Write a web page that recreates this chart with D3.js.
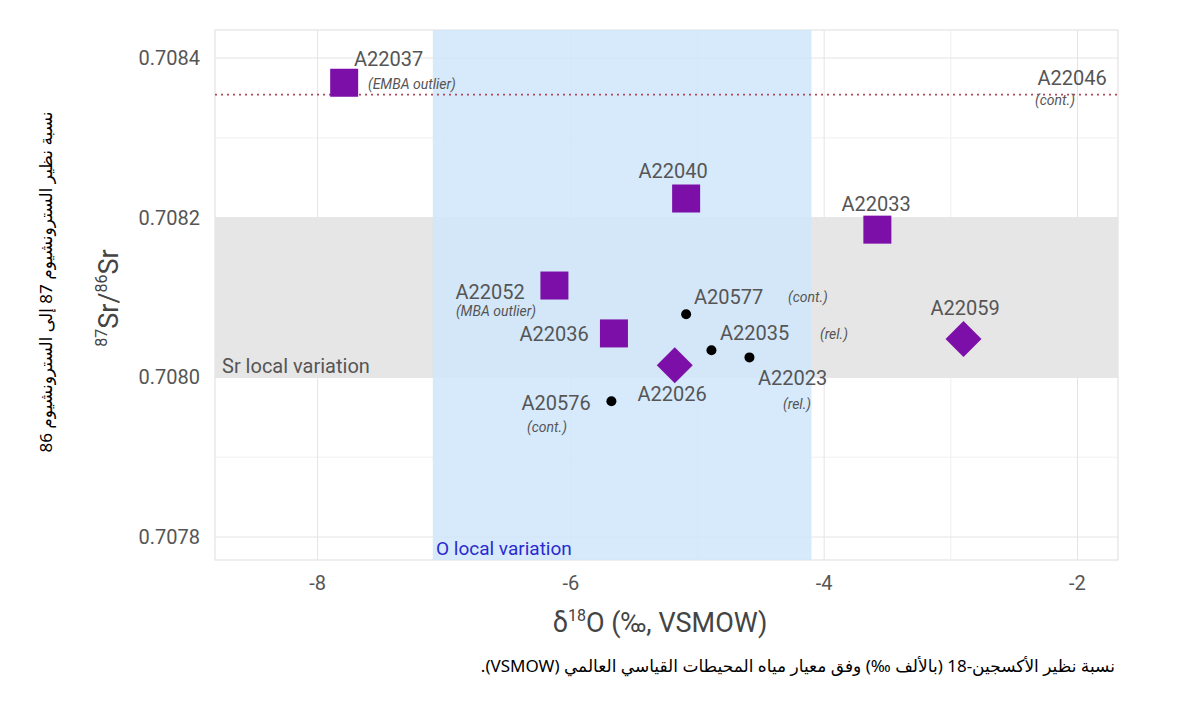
<!DOCTYPE html><html><head><meta charset="utf-8">
<script src="https://cdn.jsdelivr.net/npm/d3@7"></script>
<style>body{margin:0;background:#fff}</style></head><body>
<svg id="c" width="1200" height="723"></svg>
<script>
const squares=[{id:"A22037",x:-7.79,y:0.708369,sub:"(EMBA outlier)"},{id:"A22040",x:-5.09,y:0.708224},{id:"A22033",x:-3.58,y:0.708185},{id:"A22052",x:-6.13,y:0.708115,sub:"(MBA outlier)"},{id:"A22036",x:-5.66,y:0.708055}];
const diamonds=[{id:"A22026",x:-5.18,y:0.708015},{id:"A22059",x:-2.90,y:0.708048}];
const dots=[{id:"A20577",x:-5.09,y:0.708079,sub:"(cont.)"},{id:"A22035",x:-4.89,y:0.708034,sub:"(rel.)"},{id:"A22023",x:-4.59,y:0.708025,sub:"(rel.)"},{id:"A20576",x:-5.68,y:0.70797,sub:"(cont.)"}];
const xTicks=[-8,-6,-4,-2], yTicks=[0.7078,0.7080,0.7082,0.7084];
const oBand=[-7.09,-4.10], srBand=[0.7080,0.7082], refLine=0.708354;
const svg=d3.select("#c");
const x=d3.scaleLinear().domain([-8.81,-1.68]).range([215,1118]);
const y=d3.scaleLinear().domain([0.7084,0.7078]).range([58,537]);
const pTop=30,pBot=560;
const g=svg.append("g");
g.append("rect").attr("x",215).attr("y",pTop).attr("width",903).attr("height",pBot-pTop).attr("fill","#fff").attr("stroke","#ddd");
[-7,-5,-3].forEach(v=>g.append("line").attr("x1",x(v)).attr("x2",x(v)).attr("y1",pTop).attr("y2",pBot).attr("stroke","#f0f0f0"));
[0.7079,0.7081,0.7083].forEach(v=>g.append("line").attr("y1",y(v)).attr("y2",y(v)).attr("x1",215).attr("x2",1118).attr("stroke","#f0f0f0"));
xTicks.forEach(v=>g.append("line").attr("x1",x(v)).attr("x2",x(v)).attr("y1",pTop).attr("y2",pBot).attr("stroke","#e4e4e4"));
yTicks.forEach(v=>g.append("line").attr("y1",y(v)).attr("y2",y(v)).attr("x1",215).attr("x2",1118).attr("stroke","#e4e4e4"));
g.append("rect").attr("x",215).attr("width",903).attr("y",y(srBand[1])).attr("height",y(srBand[0])-y(srBand[1])).attr("fill","#e6e6e6");
g.append("rect").attr("x",x(oBand[0])).attr("width",x(oBand[1])-x(oBand[0])).attr("y",pTop).attr("height",pBot-pTop).attr("fill","#cfe6fb").attr("opacity",0.85);
g.append("line").attr("x1",215).attr("x2",1118).attr("y1",y(refLine)).attr("y2",y(refLine)).attr("stroke","#b04a5a").attr("stroke-width",1.8).attr("stroke-dasharray","2,4");
const F="Roboto, 'DejaVu Sans', sans-serif";
const txt=(t,px,py,o={})=>svg.append("text").attr("x",px).attr("y",py).attr("font-family",o.f||F).attr("font-size",o.s||20).attr("fill",o.c||"#555").attr("text-anchor",o.a||"middle").attr("font-style",o.i?"italic":null).text(t);
txt("Sr local variation",222,373,{a:"start"});
txt("O local variation",436,555,{a:"start",c:"#2a2ad0",s:19});
txt("A22046",1072,85); txt("(cont.)",1055,105,{s:14,i:1});
const P="#7b0fa8";
squares.forEach(d=>g.append("rect").attr("x",x(d.x)-14).attr("y",y(d.y)-14).attr("width",28).attr("height",28).attr("fill",P));
diamonds.forEach(d=>g.append("path").attr("d","M0,-18L18,0L0,18L-18,0Z").attr("transform",`translate(${x(d.x)},${y(d.y)})`).attr("fill",P));
dots.forEach(d=>g.append("circle").attr("cx",x(d.x)).attr("cy",y(d.y)).attr("r",5).attr("fill","#000"));
const L={A22037:[354,66,"start"],A22040:[673,178],A22033:[876,211],A22052:[490,299],A22036:[554,341],A22026:[672,401],A22059:[965,315],A20577:[694,304,"start"],A22035:[720,340,"start"],A22023:[758,385,"start"],A20576:[556,410]};
const S={A22037:[368,89,"start"],A22052:[496,316],A20577:[788,302,"start"],A22035:[820,339,"start"],A22023:[797,409],A20576:[547,432]};
[...squares,...diamonds,...dots].forEach(d=>{const l=L[d.id];txt(d.id,l[0],l[1],{a:l[2]||"middle"});if(d.sub){const s=S[d.id];txt(d.sub,s[0],s[1],{a:s[2]||"middle",s:14,i:1});}});
xTicks.forEach(v=>txt(v<0?"-"+Math.abs(v):v,x(v),590,{s:20}));
yTicks.forEach(v=>txt(v.toFixed(4),200,y(v)+7,{a:"end",s:20}));
const xt=svg.append("text").attr("x",660).attr("y",632).attr("text-anchor","middle").attr("font-family",F).attr("font-size",27).attr("fill","#444");
xt.append("tspan").text("δ");xt.append("tspan").attr("font-size",16).attr("dy",-11).text("18");xt.append("tspan").attr("dy",11).text("O (‰, VSMOW)");
const yt=svg.append("text").attr("transform","translate(118,298) rotate(-90)").attr("text-anchor","middle").attr("font-family",F).attr("font-size",27).attr("fill","#444");
yt.append("tspan").attr("font-size",16).attr("dy",-11).text("87");yt.append("tspan").attr("dy",11).text("Sr/");yt.append("tspan").attr("font-size",16).attr("dy",-11).text("86");yt.append("tspan").attr("dy",11).text("Sr");
svg.append("text").attr("transform","translate(52,282) rotate(-90)").attr("text-anchor","middle").attr("font-family","'Noto Sans','DejaVu Sans',sans-serif").attr("font-size",17).attr("fill","#000").attr("direction","rtl").text("نسبة نظير السترونشيوم 87 إلى السترونشيوم 86");
svg.append("text").attr("x",1115).attr("y",672).attr("text-anchor","start").attr("direction","rtl").attr("font-family","'Noto Sans','DejaVu Sans',sans-serif").attr("font-size",17).attr("fill","#000").text("نسبة نظير الأكسجين-18 (بالألف ‰) وفق معيار مياه المحيطات القياسي العالمي (VSMOW).");
</script></body></html>
